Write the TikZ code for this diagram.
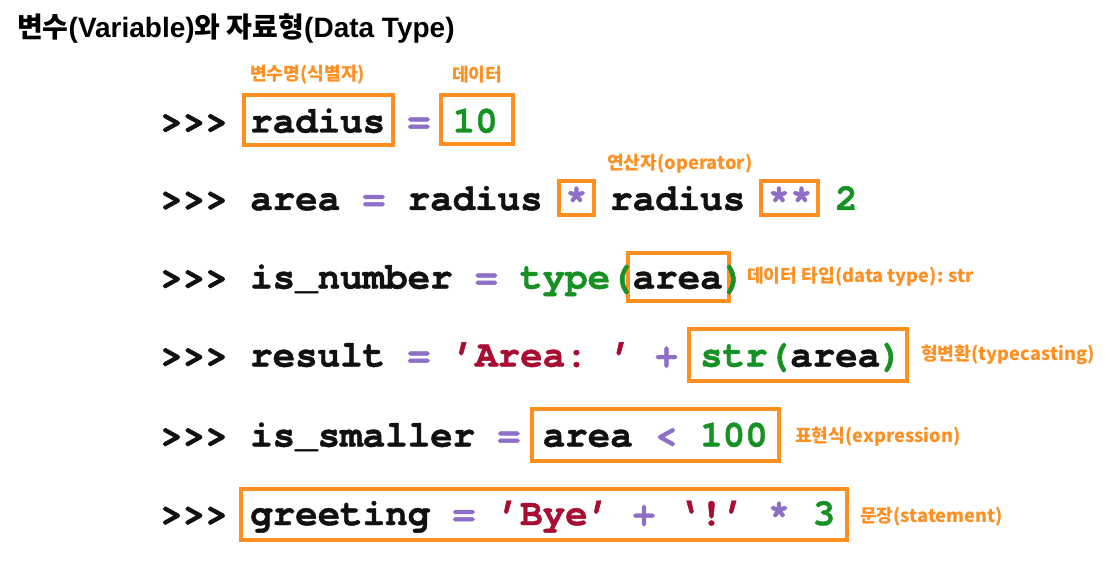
\documentclass[tikz,border=0pt]{standalone}
\usepackage{fontspec}
\newfontfamily\codefont{texgyrecursor}[Extension=.otf, UprightFont=*-regular, BoldFont=*-bold, BoldFeatures={FakeBold=1.2}]
\newfontfamily\krfont{Noto Sans CJK KR}
\newfontfamily\latfont{Liberation Sans}
\definecolor{obox}{RGB}{255,143,32}
\definecolor{opc}{RGB}{143,110,200}
\definecolor{numc}{RGB}{22,145,35}
\definecolor{strc}{RGB}{168,14,50}
\definecolor{inkc}{RGB}{17,17,17}
\tikzset{
  code/.style={anchor=base west, inner sep=0pt, text=inkc,
    font=\codefont\bfseries\fontsize{37.5}{40}\selectfont},
  opt/.style={code, text=opc},
  numt/.style={code, text=numc},
  strt/.style={code, text=strc},
  lbl/.style={anchor=west, inner sep=0pt, text=obox,
    font=\krfont\bfseries\fontsize{18.2}{21}\selectfont},
  hbox/.style={draw=obox, line width=4pt, inner sep=0pt, rectangle},
}
\begin{document}
\begin{tikzpicture}[x=1pt,y=-1pt]
\useasboundingbox[fill=white] (0,0) rectangle (1113,561);
% title
\node[anchor=west, inner sep=0pt, text=black, font=\bfseries\fontsize{28}{32}\selectfont] (title) at (17,28)
  {{\krfont 변수}{\latfont (Variable)}{\krfont 와 자료형}{\latfont (Data Type)}};
% boxes
\node[hbox, minimum width=149, minimum height=50] (b1) at (318.5,120) {};
\node[hbox, minimum width=72, minimum height=49] (b2) at (477,119.5) {};
\node[hbox, minimum width=35, minimum height=34] (b3) at (576.5,198) {};
\node[hbox, minimum width=57, minimum height=34] (b4) at (789.5,198) {};
\node[hbox, minimum width=101, minimum height=48] (b5) at (678.5,277) {};
\node[hbox, minimum width=218, minimum height=52] (b6) at (798,355) {};
\node[hbox, minimum width=247, minimum height=52] (b7) at (655.5,435) {};
\node[hbox, minimum width=606, minimum height=51] (b8) at (544,514.5) {};
% line 1
\node[code] (a0) at ({160+0*22.5},132.5) {>>>};
\node[code] (a1) at ({160+4*22.5},132.5) {radius};
\node[opt]  (a2) at ({160+11*22.5},132.5) {=};
\node[numt] (a3) at ({160+13*22.5},132.5) {10};
% line 2
\node[code] (c0) at ({160+0*22.5},210) {>>> area};
\node[opt]  (c1) at ({160+9*22.5},210) {=};
\node[code] (c2) at ({160+11*22.5},210) {radius};
\node[opt]  (c3) at ({160+18*22.5},210) {*};
\node[code] (c4) at ({160+20*22.5},210) {radius};
\node[opt]  (c5) at ({160+27*22.5},210) {**};
\node[numt] (c6) at ({160+30*22.5},210) {2};
% line 3
\node[code] (d0) at ({160+0*22.5},288.5) {>>> is\_number};
\node[opt]  (d1) at ({160+14*22.5},288.5) {=};
\node[numt] (d2) at ({160+16*22.5},288.5) {type(};
\node[code] (d3) at ({160+21*22.5},288.5) {area};
\node[numt] (d4) at ({160+25*22.5},288.5) {)};
% line 4
\node[code] (e0) at ({160+0*22.5},366.5) {>>> result};
\node[opt]  (e1) at ({160+11*22.5},366.5) {=};
\node[strt] (e2) at ({160+13*22.5},366.5) {’Area:\ ’};
\node[opt]  (e3) at ({160+22*22.5},366.5) {+};
\node[numt] (e4) at ({160+24*22.5},366.5) {str(};
\node[code] (e5) at ({160+28*22.5},366.5) {area};
\node[numt] (e6) at ({160+32*22.5},366.5) {)};
% line 5
\node[code] (f0) at ({160+0*22.5},446.5) {>>> is\_smaller};
\node[opt]  (f1) at ({160+15*22.5},446.5) {=};
\node[code] (f2) at ({160+17*22.5},446.5) {area};
\node[opt]  (f3) at ({160+22*22.5},446.5) {<};
\node[numt] (f4) at ({160+24*22.5},446.5) {100};
% line 6
\node[code] (g0) at ({160+0*22.5},525) {>>>};
\node[code] (g1) at ({160+4*22.5},525) {greeting};
\node[opt]  (g2) at ({160+13*22.5},525) {=};
\node[strt] (g3) at ({160+15*22.5},525) {’Bye’};
\node[opt]  (g4) at ({160+21*22.5},525) {+};
\node[strt] (g5) at ({160+23*22.5},525) {‘!’};
\node[opt]  (g6) at ({160+27*22.5},525) {*};
\node[numt] (g7) at ({160+29*22.5},525) {3};
% labels
\node[lbl] (l1) at (250,75) {변수명(식별자)};
\node[lbl] (l2) at (452,75) {데이터};
\node[lbl] (l3) at (607,164) {연산자(operator)};
\node[lbl] (l4) at (747,277) {데이터 타입(data type): str};
\node[lbl] (l5) at (921,355) {형변환(typecasting)};
\node[lbl] (l6) at (795,437) {표현식(expression)};
\node[lbl] (l7) at (860,517) {문장(statement)};
\end{tikzpicture}
\end{document}
